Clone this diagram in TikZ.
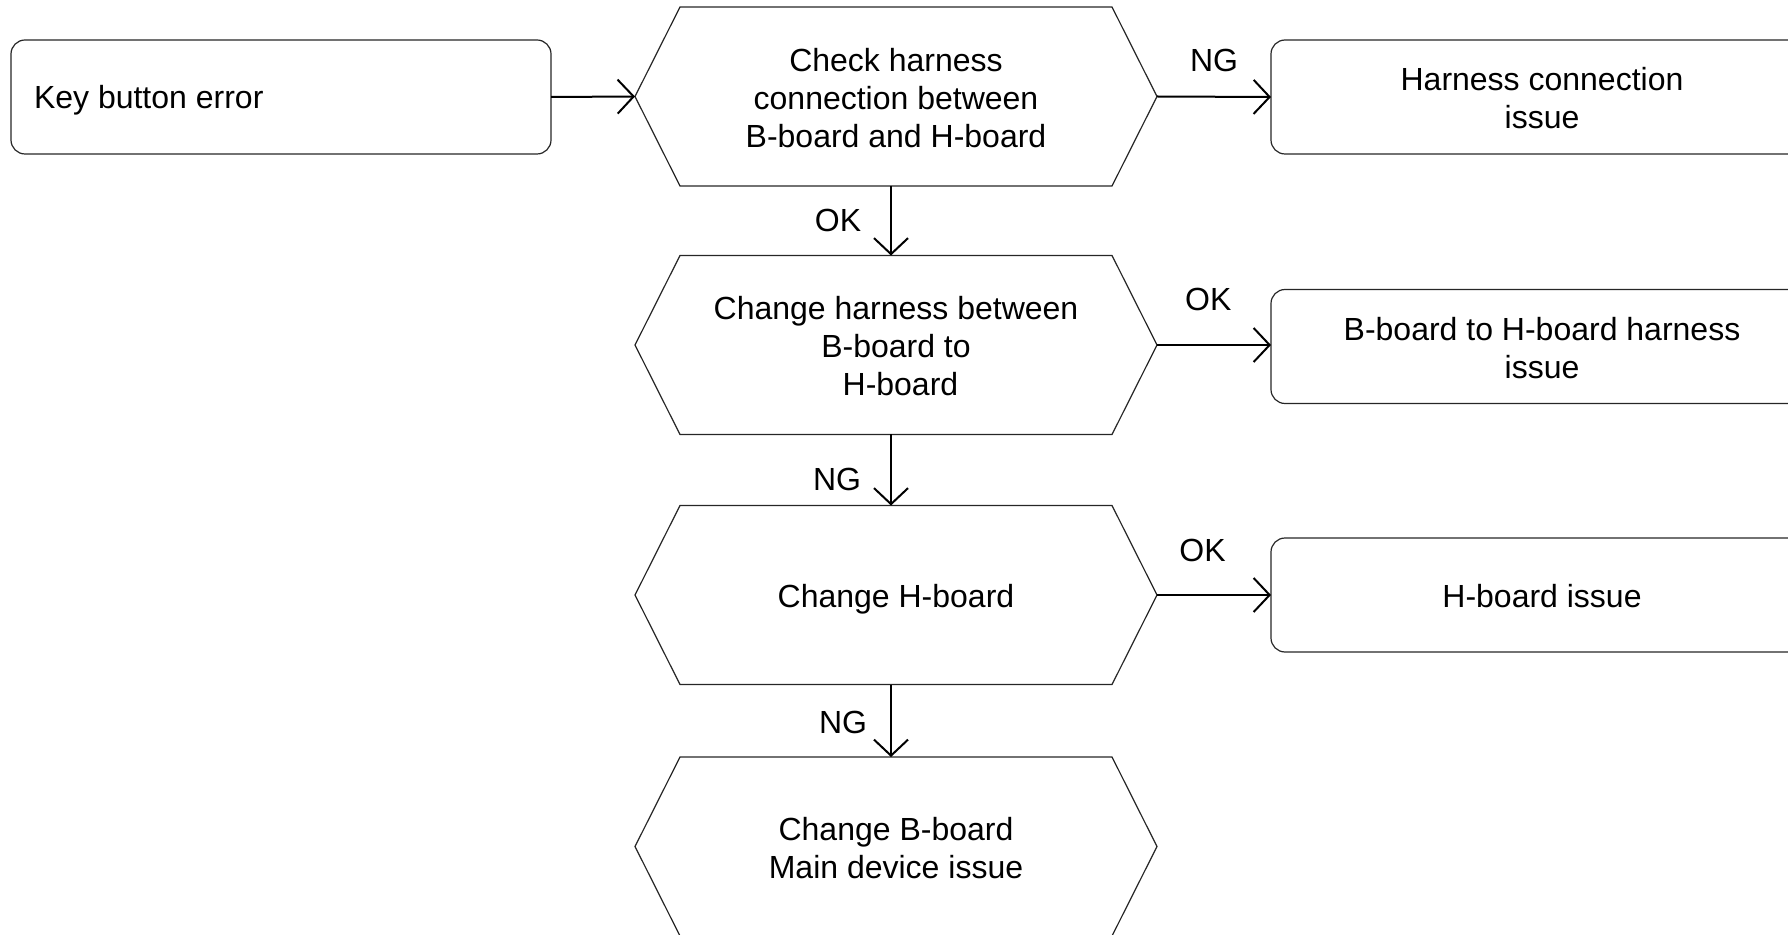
\documentclass[tikz,border=0pt]{standalone}
\usepackage{fontspec}
\setmainfont{Liberation Sans}
\usetikzlibrary{arrows.meta,calc}
\begin{document}
\begin{tikzpicture}[x=0.5pt,y=-0.5pt,
  every node/.style={font=\fontsize{16pt}{19pt}\selectfont, inner sep=0pt, outer sep=0pt},
  txt/.style={align=center, yshift=-0.6pt},
  txtone/.style={align=center, yshift=-1.5pt, text depth=0.21em},
  rbox/.style={draw=black!85, line width=0.6pt, rounded corners=7pt, minimum height=57pt},
  rightbox/.style={rbox, minimum width=271pt},
  hexa/.style={minimum width=261pt, minimum height=89.5pt},
  hexline/.style={draw=black!85, line width=0.6pt, line join=miter},
  arr/.style={line width=1pt, -{Straight Barb[length=8pt,width=17pt,line width=1pt]}},
  lbl/.style={fill=none}
]
\useasboundingbox (0,0) rectangle (1788,935);
\clip (0,0) rectangle (1788,935);

% process column
\node[rbox, minimum width=270pt,
      label={[name=keyt, anchor=west, xshift=11.5pt, yshift=-1.5pt]west:Key button error}] (key) at (281,97) {};
\node[hexa, label={[txt, name=h1t]center:{Check harness\\connection between\\B-board and H-board}}] (h1) at (896,96.5) {};
\node[hexa, label={[txt, name=h2t]center:{Change harness between\\B-board to\\\hspace*{0.278em}H-board}}] (h2) at (896,345) {};
\node[hexa, label={[txtone, name=h3t]center:{Change H-board}}] (h3) at (896,595) {};
\node[hexa, label={[txt, name=h4t]center:{Change B-board\\Main device issue}}] (h4) at (896,846.5) {};

\foreach \n in {h1,h2,h3,h4}
  \draw[hexline] (\n.west) -- ([xshift=22.5pt]\n.north west) -- ([xshift=-22.5pt]\n.north east)
    -- (\n.east) -- ([xshift=-22.5pt]\n.south east) -- ([xshift=22.5pt]\n.south west) -- cycle;

% result boxes
\node[rightbox, label={[txt, name=r1t]center:{Harness connection\\issue}}] (r1) at (1542,97) {};
\node[rightbox, label={[txt, name=r2t]center:{B-board to H-board harness\\issue}}] (r2) at (1542,346.5) {};
\node[rightbox, label={[txtone, name=r3t]center:{H-board issue}}] (r3) at (1542,595) {};

% connectors
\coordinate (ax) at (891,0);
\draw[arr] (key.east) -- (h1.west);
\draw[arr] (h1.east) -- (r1.west) node[lbl, midway, yshift=18pt] {NG};
\draw[arr] (h2.east) -- (h2.east -| r2.west) node[lbl, pos=0.45, yshift=23pt] {OK};
\draw[arr] (h3.east) -- (h3.east -| r3.west) node[lbl, pos=0.4, yshift=22.5pt] {OK};
\draw[arr] (h1.south -| ax) -- (h2.north -| ax) node[lbl, midway, xshift=-26.5pt] {OK};
\draw[arr] (h2.south -| ax) -- (h3.north -| ax) node[lbl, midway, xshift=-27pt, yshift=-4.5pt] {NG};
\draw[arr] (h3.south -| ax) -- (h4.north -| ax) node[lbl, midway, xshift=-24pt, yshift=-1pt] {NG};
\end{tikzpicture}
\end{document}
